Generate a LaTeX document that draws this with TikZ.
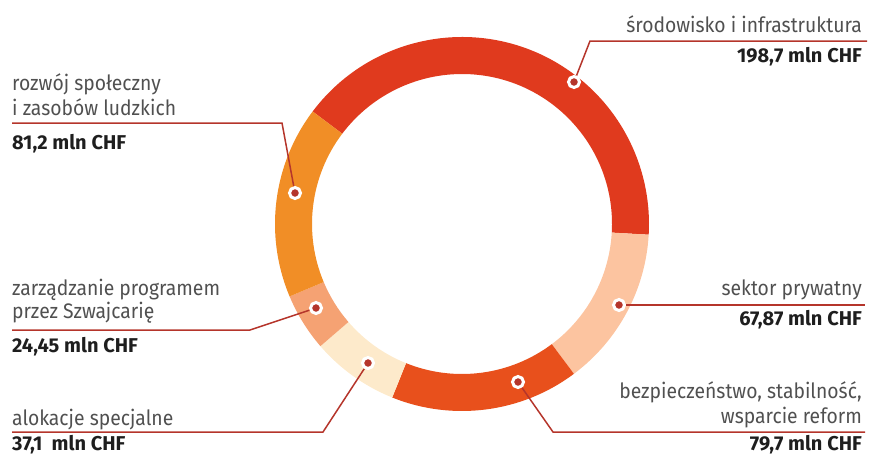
\documentclass[tikz,border=0pt]{standalone}
\usepackage{fontspec}
\setmainfont{Fira Sans}[FakeStretch=0.92, BoldFeatures={FakeStretch=1.0}]
\usepackage{tikz}
\usepackage{xcolor}
\definecolor{ring-red}{HTML}{E03A1E}
\definecolor{ring-peach}{HTML}{FCC4A0}
\definecolor{ring-orangered}{HTML}{E8501C}
\definecolor{ring-cream}{HTML}{FDEACB}
\definecolor{ring-salmon}{HTML}{F5A273}
\definecolor{ring-orange}{HTML}{F18E26}
\definecolor{leader-red}{HTML}{B5352B}
\definecolor{label-gray}{HTML}{505050}
\definecolor{value-dark}{HTML}{1E1E1E}
\tikzset{
    ring-label/.style = {text=label-gray, font=\fontsize{21}{25}\selectfont, inner sep=0pt},
    ring-value/.style = {text=value-dark, font=\fontsize{20}{25}\selectfont\bfseries, inner sep=0pt},
    leader-line/.style = {draw=leader-red, line width=1.5pt},
    ring-marker/.style = {circle, fill=leader-red, draw=white, line width=3pt, minimum size=11pt, inner sep=0pt},
}
\newcommand{\ringpart}[3]{\fill[#3] (#1:187) arc[start angle=#1, end angle=#2, radius=187] -- (#2:150) arc[start angle=#2, end angle=#1, radius=150] -- cycle;}

\begin{document}
\begin{tikzpicture}[x=1pt, y=-1pt]
\useasboundingbox (0,0) rectangle (869,455);
% donut
\begin{scope}[shift={(462,224)}]
\ringpart{-143}{3.28}{ring-red}
\ringpart{3.28}{53.24}{ring-peach}
\ringpart{53.24}{111.91}{ring-orangered}
\ringpart{111.91}{139.22}{ring-cream}
\ringpart{139.22}{157.22}{ring-salmon}
\ringpart{157.22}{217}{ring-orange}
\end{scope}

% markers
\node[ring-marker] (env) at (574,82) {};
\node[ring-marker] (soc) at (295,193) {};
\node[ring-marker] (mgmt) at (316,308) {};
\node[ring-marker] (spec) at (368,363) {};
\node[ring-marker] (sec) at (518,382) {};
\node[ring-marker] (priv) at (619,305) {};

% labels
\node[ring-label, anchor=base east] (env-text) at (862,32) {środowisko i infrastruktura};
\node[ring-value, anchor=base east] (env-value) at (862,62) {198,7 mln CHF};
\node[ring-label, anchor=base west] (soc-text) at (12,90) {rozwój społeczny};
\node[ring-label, anchor=base west] (soc-text2) at (12,115) {i zasobów ludzkich};
\node[ring-value, anchor=base west] (soc-value) at (12,149) {81,2 mln CHF};
\node[ring-label, anchor=base west] (mgmt-text) at (12,295) {zarządzanie programem};
\node[ring-label, anchor=base west] (mgmt-text2) at (12,318) {przez Szwajcarię};
\node[ring-value, anchor=base west] (mgmt-value) at (12,352) {24,45 mln CHF};
\node[ring-label, anchor=base west] (spec-text) at (12,425) {alokacje specjalne};
\node[ring-value, anchor=base west] (spec-value) at (12,450) {37,1\ \ mln CHF};
\node[ring-label, anchor=base east] (priv-text) at (862,295) {sektor prywatny};
\node[ring-value, anchor=base east] (priv-value) at (862,325) {67,87 mln CHF};
\node[ring-label, anchor=base east] (sec-text) at (862,398) {bezpieczeństwo, stabilność,};
\node[ring-label, anchor=base east] (sec-text2) at (862,423) {wsparcie reform};
\node[ring-value, anchor=base east] (sec-value) at (862,450) {79,7 mln CHF};

% leader lines
\coordinate (env-bend) at (590,41);
\coordinate (env-end) at (867,41);
\coordinate (soc-bend) at (282,123);
\coordinate (soc-end) at (12,123);
\coordinate (mgmt-bend) at (250,330);
\coordinate (mgmt-end) at (12,330);
\coordinate (spec-bend) at (323,432);
\coordinate (spec-end) at (12,432);
\coordinate (sec-bend) at (553,432);
\coordinate (sec-end) at (865,432);
\coordinate (priv-end) at (865,305);
\draw[leader-line] (env) -- (env-bend) -- (env-end);
\draw[leader-line] (soc) -- (soc-bend) -- (soc-end);
\draw[leader-line] (mgmt) -- (mgmt-bend) -- (mgmt-end);
\draw[leader-line] (spec) -- (spec-bend) -- (spec-end);
\draw[leader-line] (sec) -- (sec-bend) -- (sec-end);
\draw[leader-line] (priv) -- (priv-end);
\end{tikzpicture}
\end{document}
